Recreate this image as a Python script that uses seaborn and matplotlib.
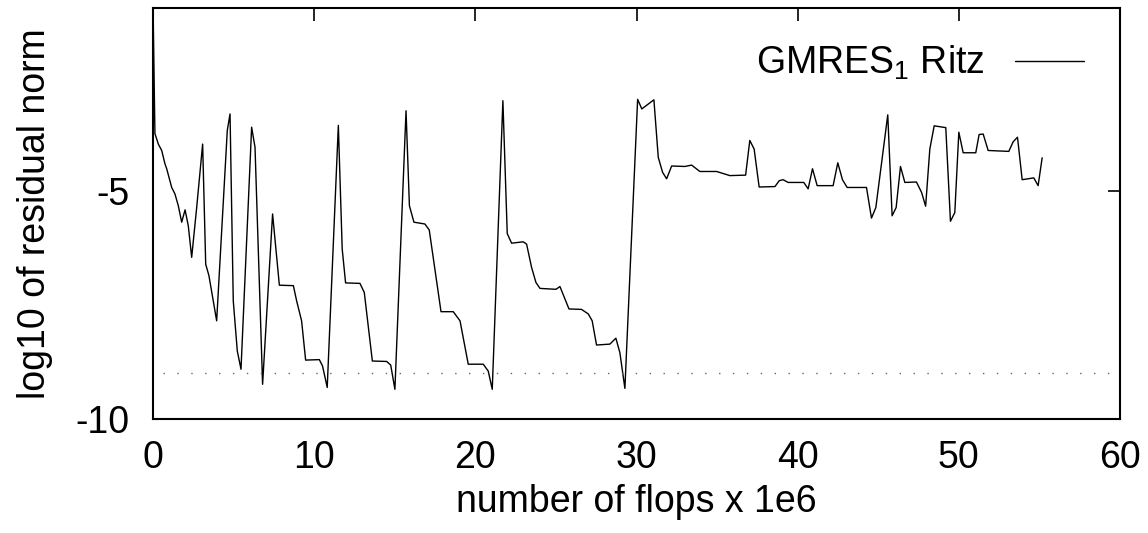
import matplotlib
matplotlib.use("Agg")
import matplotlib.pyplot as plt
import seaborn as sns
import pandas as pd

# residual history
flops = [0.0, 0.12, 0.33, 0.54, 0.74, 0.85, 1.16, 1.36, 1.57, 1.78, 1.99, 2.19, 2.40, 2.71, 3.08, 3.27, 3.47, 3.70,
         3.95, 4.61, 4.78, 4.98, 5.23, 5.46, 6.12, 6.33, 6.80, 7.42, 7.84, 8.71, 8.91, 9.22, 9.47, 10.32, 10.52, 10.81,
         11.50, 11.74, 11.95, 12.84, 13.11, 13.61, 14.50, 14.75, 15.01,
         15.70, 15.91, 16.19, 16.87, 17.14, 17.87, 18.63, 19.05, 19.56, 20.49, 20.80, 21.05,
         21.71, 21.98, 22.25, 22.97, 23.18, 23.49, 23.76, 24.01, 25.00, 25.25, 25.50, 25.81, 26.59, 27.01, 27.25,
         27.52, 28.35, 28.72, 28.97, 29.28,
         30.07, 30.33, 31.08, 31.35, 31.62, 31.87, 32.18, 33.00, 33.42, 33.93, 34.97, 35.79, 36.77, 37.03, 37.30,
         37.61, 38.59, 38.86, 39.10, 39.41, 40.38, 40.65, 40.92, 41.21, 42.20, 42.49, 42.78, 43.07, 44.27, 44.58,
         44.85, 45.59, 45.86, 46.11, 46.38, 46.65, 47.37, 47.69, 47.94, 48.20, 48.47, 49.19, 49.48, 49.75, 50.00,
         50.27, 51.05, 51.26, 51.51, 51.82, 53.10, 53.37, 53.64, 53.93, 54.65, 54.92, 55.17]
log_res = [-0.9, -3.75, -3.98, -4.12, -4.41, -4.52, -4.93, -5.07, -5.33, -5.69, -5.42, -5.77, -6.46, -5.37, -3.98,
           -6.61, -6.86, -7.34, -7.85, -3.68, -3.32, -7.41, -8.51, -8.91, -3.61, -4.05, -9.24, -5.51, -7.07, -7.08,
           -7.41, -7.85, -8.71, -8.70, -8.84, -9.31,
           -3.57, -6.28, -7.02, -7.03, -7.23, -8.73, -8.74, -8.82, -9.35,
           -3.25, -5.33, -5.69, -5.73, -5.86, -7.65, -7.65, -7.85, -8.80, -8.80, -8.95, -9.35,
           -3.03, -5.94, -6.15, -6.12, -6.17, -6.68, -7.01, -7.14, -7.16, -7.10, -7.32, -7.59, -7.60, -7.70, -7.85,
           -8.38, -8.36, -8.23, -8.55, -9.33,
           -3.00, -3.21, -3.01, -4.27, -4.60, -4.74, -4.46, -4.47, -4.44, -4.58, -4.58, -4.67, -4.66, -3.90, -4.09,
           -4.92, -4.91, -4.78, -4.76, -4.82, -4.82, -4.96, -4.52, -4.89, -4.89, -4.39, -4.76, -4.93, -4.93, -5.60,
           -5.37, -3.34, -5.55, -5.37, -4.47, -4.82, -4.81, -5.04, -5.34, -4.09, -3.58, -3.62, -5.67, -5.48, -3.72,
           -4.17, -4.17, -3.77, -3.76, -4.12, -4.14, -3.93, -3.83, -4.76, -4.72, -4.89, -4.28]
tolerance = -9
x_ticks = [0, 10, 20, 30, 40, 50, 60]
y_ticks = [-10, -5]

sns.set_style("white")
plt.rcParams['font.family'] = ['Liberation Sans', 'DejaVu Sans']
plt.rcParams['mathtext.fontset'] = 'custom'
plt.rcParams['mathtext.rm'] = 'Liberation Sans'
plt.rcParams['mathtext.it'] = 'Liberation Sans'
plt.rcParams['axes.unicode_minus'] = False
plt.rcParams['text.color'] = 'black'
plt.rcParams['axes.labelcolor'] = 'black'
plt.rcParams['xtick.color'] = 'black'
plt.rcParams['ytick.color'] = 'black'

df = pd.DataFrame({'flops': flops, 'res': log_res})

fig = plt.figure(figsize=(11.48, 5.33), dpi=100)
ax = fig.add_axes([153 / 1148, 1 - 419 / 533, (1120 - 153) / 1148, (419 - 8) / 533])

sns.lineplot(data=df, x='flops', y='res', sort=False, estimator=None, color='black', linewidth=1.0,
             label='GMRES$_1$ Ritz', ax=ax)
ax.axhline(tolerance, color='#666666', linewidth=1.0, linestyle=(0, (1, 9)), xmin=0.01, xmax=0.995)

ax.set_xlim(0, 60)
ax.set_ylim(-10, -1)
ax.set_xticks(x_ticks)
ax.set_yticks(y_ticks)
ax.tick_params(direction='in', length=9, width=1.2, top=True, right=True, labelsize=27)
ax.tick_params(axis='x', pad=15)
ax.tick_params(axis='y', pad=17)
for s in ax.spines.values():
    s.set_visible(True)
    s.set_color('black')
    s.set_linewidth(1.5)

ax.set_xlabel('number of flops x 1e6', fontsize=27, labelpad=6)
ax.set_ylabel('log10 of residual norm', fontsize=27, labelpad=16)

ax.legend(loc='upper right', frameon=False, fontsize=27, markerfirst=False, handlelength=1.85,
          handletextpad=0.8, borderaxespad=0.55)

plt.savefig('out.png', dpi=100)
